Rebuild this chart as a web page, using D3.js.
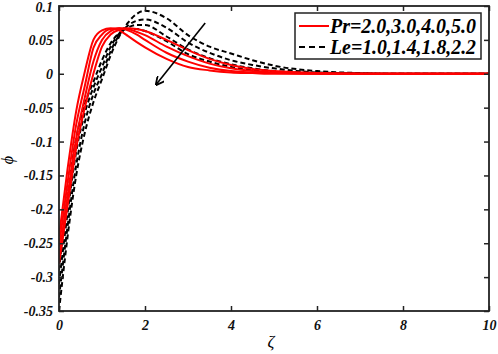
<!DOCTYPE html>
<html>
<head>
<meta charset="utf-8">
<script src="https://cdn.jsdelivr.net/npm/d3@7"></script>
<style>
  body { margin: 0; background: #fff; }
  svg text { font-family: "Liberation Serif", "Times New Roman", serif; }
</style>
</head>
<body>
<div id="chart"></div>
<script>
// data
var zeta = [0, 0.2, 0.4, 0.6, 0.8, 1.0, 1.2, 1.4, 1.6, 1.8, 2.0, 2.5, 3.0, 3.5, 4.0, 4.5, 5.0, 6.0, 7.0, 8.0, 10.0];

var prCurves = [
    [-0.24, -0.14, -0.055, 0.003, 0.05, 0.064, 0.067, 0.064, 0.056, 0.047, 0.039, 0.022, 0.010, 0.005, 0.002, 0.001, 0, 0, 0, 0, 0],
    [-0.255, -0.16, -0.075, -0.018, 0.038, 0.058, 0.066, 0.067, 0.064, 0.058, 0.050, 0.031, 0.018, 0.009, 0.004, 0.002, 0.001, 0, 0, 0, 0],
    [-0.27, -0.18, -0.095, -0.035, 0.018, 0.050, 0.063, 0.067, 0.066, 0.062, 0.057, 0.040, 0.026, 0.015, 0.008, 0.004, 0.002, 0.0005, 0, 0, 0],
    [-0.28, -0.195, -0.11, -0.05, 0.0, 0.040, 0.058, 0.065, 0.067, 0.066, 0.063, 0.050, 0.035, 0.022, 0.013, 0.007, 0.004, 0.001, 0, 0, 0]
];

var leCurves = [
    [-0.29, -0.18, -0.095, -0.045, -0.012, 0.020, 0.045, 0.060, 0.066, 0.066, 0.063, 0.048, 0.029, 0.018, 0.010, 0.005, 0.003, 0.001, 0, 0, 0],
    [-0.31, -0.205, -0.115, -0.058, -0.02, 0.010, 0.040, 0.059, 0.068, 0.072, 0.072, 0.055, 0.036, 0.023, 0.014, 0.008, 0.004, 0.001, 0, 0, 0],
    [-0.33, -0.225, -0.135, -0.072, -0.03, 0.0, 0.033, 0.057, 0.071, 0.078, 0.080, 0.068, 0.046, 0.031, 0.020, 0.013, 0.008, 0.002, 0.0005, 0, 0],
    [-0.35, -0.24, -0.15, -0.087, -0.042, -0.008, 0.027, 0.055, 0.075, 0.088, 0.093, 0.082, 0.057, 0.040, 0.030, 0.020, 0.012, 0.004, 0.001, 0, 0]
];

var xTicks = [0, 2, 4, 6, 8, 10];
var yTicks = [0.1, 0.05, 0, -0.05, -0.1, -0.15, -0.2, -0.25, -0.3, -0.35];
var legendLabels = ["Pr=2.0,3.0,4.0,5.0", "Le=1.0,1.4,1.8,2.2"];
var arrowPts = [[3.4, 0.075], [2.26, -0.016]];

var width = 498, height = 354;
var margin = {top: 6, right: 9, bottom: 43, left: 59};
var mwidth = width - margin.left - margin.right;
var mheight = height - margin.top - margin.bottom;

var svg = d3.select("#chart").append("svg")
    .attr("width", width)
    .attr("height", height);

var x = d3.scaleLinear().domain([0, 10]).range([0, mwidth]);
var y = d3.scaleLinear().domain([-0.35, 0.1]).range([mheight, 0]);

var g = svg.append("g")
    .attr("transform", "translate(" + margin.left + "," + margin.top + ")");

var line = d3.line()
    .x(function (d, i) { return x(zeta[i]); })
    .y(function (d) { return y(d); })
    .curve(d3.curveMonotoneX);

g.append("defs").append("clipPath").attr("id", "clip")
    .append("rect").attr("width", mwidth).attr("height", mheight);

var plot = g.append("g").attr("clip-path", "url(#clip)");

plot.selectAll(".le").data(leCurves).enter().append("path")
    .attr("class", "le")
    .attr("d", line)
    .attr("fill", "none")
    .attr("stroke", "#000")
    .attr("stroke-width", 2)
    .attr("stroke-dasharray", "5,3");

plot.selectAll(".pr").data(prCurves).enter().append("path")
    .attr("class", "pr")
    .attr("d", line)
    .attr("fill", "none")
    .attr("stroke", "#ff0000")
    .attr("stroke-width", 2);

// axes, ticks pointing inward
var tickFont = function (sel) {
    sel.selectAll("text")
        .attr("font-family", "Liberation Serif, serif")
        .attr("font-weight", "bold")
        .attr("font-style", "italic")
        .attr("font-size", 14)
        .attr("fill", "#111");
    sel.selectAll("line").attr("stroke", "#222").attr("stroke-width", 1.5);
    sel.select(".domain").remove();
};

g.append("g")
    .attr("transform", "translate(0," + mheight + ")")
    .call(d3.axisBottom(x).tickValues(xTicks).tickSizeInner(-5).tickSizeOuter(0).tickPadding(9)
        .tickFormat(d3.format("d")))
    .call(tickFont);

var yAxis = g.append("g")
    .call(d3.axisLeft(y).tickValues(yTicks).tickSizeInner(-5).tickSizeOuter(0).tickPadding(6)
        .tickFormat(function (d) { return d === 0 ? "0" : String(+d.toFixed(2)); }))
    .call(tickFont);
// keep the top label inside the picture
yAxis.selectAll("text").filter(function (d) { return d === 0.1; }).attr("dy", "0.36em");

g.append("g")
    .call(d3.axisTop(x).tickValues(xTicks).tickSizeInner(-5).tickSizeOuter(0).tickFormat(""))
    .call(tickFont);

g.append("g")
    .attr("transform", "translate(" + mwidth + ",0)")
    .call(d3.axisRight(y).tickValues(yTicks).tickSizeInner(-5).tickSizeOuter(0).tickFormat(""))
    .call(tickFont);

g.append("rect")
    .attr("width", mwidth)
    .attr("height", mheight)
    .attr("fill", "none")
    .attr("stroke", "#222")
    .attr("stroke-width", 1.8);

// arrow
svg.append("defs").append("marker")
    .attr("id", "head")
    .attr("viewBox", "0 0 10 10")
    .attr("refX", 9).attr("refY", 5)
    .attr("markerWidth", 9).attr("markerHeight", 9)
    .attr("markerUnits", "userSpaceOnUse")
    .attr("orient", "auto")
    .append("path")
    .attr("d", "M0,0 L10,5 L0,10")
    .attr("fill", "none")
    .attr("stroke", "#000")
    .attr("stroke-width", 2);

g.append("line")
    .attr("x1", x(arrowPts[0][0])).attr("y1", y(arrowPts[0][1]))
    .attr("x2", x(arrowPts[1][0])).attr("y2", y(arrowPts[1][1]))
    .attr("stroke", "#000")
    .attr("stroke-width", 1.6)
    .attr("marker-end", "url(#head)");

// legend
var legend = svg.append("g").attr("transform", "translate(295,13)");
legend.append("rect")
    .attr("width", 186).attr("height", 46)
    .attr("fill", "#fff")
    .attr("stroke", "#222")
    .attr("stroke-width", 1.5);

var rows = legend.selectAll(".row").data(legendLabels).enter().append("g")
    .attr("transform", function (d, i) { return "translate(0," + (13 + i * 21) + ")"; });

rows.append("line")
    .attr("x1", 4).attr("x2", 34)
    .attr("stroke", function (d, i) { return i === 0 ? "#ff0000" : "#000"; })
    .attr("stroke-width", 2)
    .attr("stroke-dasharray", function (d, i) { return i === 0 ? null : "6,4"; });

rows.append("text")
    .attr("x", 35).attr("y", 6.5)
    .attr("font-weight", "bold")
    .attr("font-style", "italic")
    .attr("font-size", 20)
    .attr("textLength", 146)
    .attr("lengthAdjust", "spacingAndGlyphs")
    .text(function (d) { return d; });

// axis titles
svg.append("text")
    .attr("x", margin.left + x(5) - 3).attr("y", 347)
    .attr("text-anchor", "middle")
    .attr("font-style", "italic")
    .attr("font-size", 17)
    .text("ζ");

svg.append("text")
    .attr("transform", "translate(13,160) rotate(-90)")
    .attr("text-anchor", "middle")
    .attr("font-style", "italic")
    .attr("font-size", 16)
    .text("ϕ");
</script>
</body>
</html>
